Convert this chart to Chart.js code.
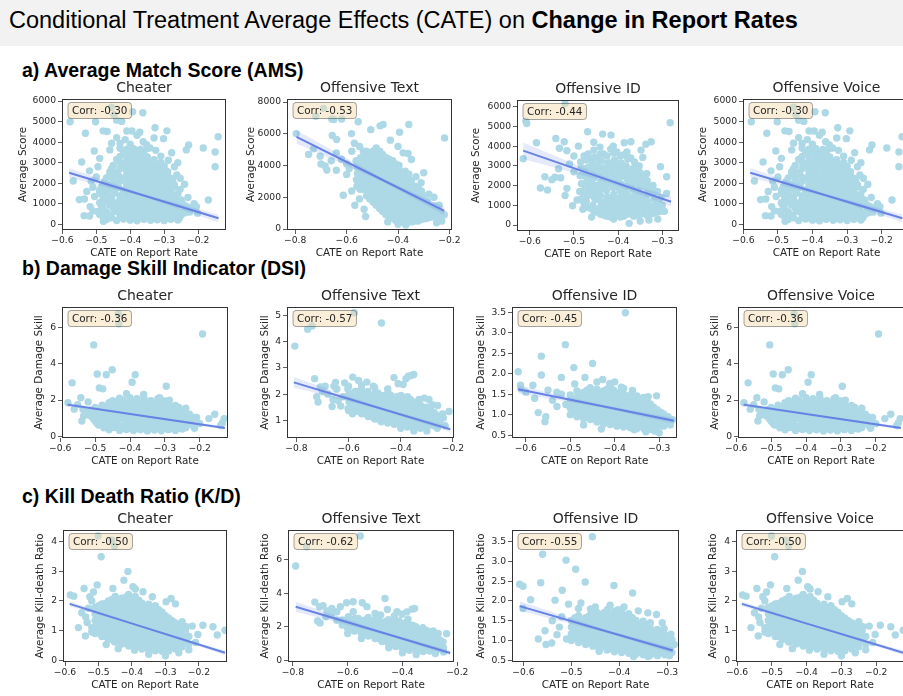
<!DOCTYPE html>
<html>
<head>
<meta charset="utf-8">
<script src="https://cdn.jsdelivr.net/npm/chart.js@4.4.1/dist/chart.umd.min.js"></script>
<style>
  body { margin:0; width:903px; height:696px; overflow:hidden; position:relative; background:#fff; font-family:"Liberation Sans", Arial, sans-serif; }
  #banner { position:absolute; left:0; top:0; width:903px; height:46px; background:#f2f2f2; }
  #banner span { position:absolute; left:9px; top:6px; font-size:23.5px; line-height:28px; color:#000; white-space:nowrap; }
  .sec { position:absolute; left:22px; font-size:19.5px; font-weight:bold; line-height:24px; color:#000; white-space:nowrap; }
  canvas { position:absolute; }
</style>
</head>
<body>
<div id="banner"><span>Conditional Treatment Average Effects (CATE) on <b>Change in Report Rates</b></span></div>
<div class="sec" style="top:58px">a) Average Match Score (AMS)</div>
<div class="sec" style="top:256px">b) Damage Skill Indicator (DSI)</div>
<div class="sec" style="top:484px">c) Kill Death Ratio (K/D)</div>

<script>
// ---- data ----
const panelTitles = ['Cheater', 'Offensive Text', 'Offensive ID', 'Offensive Voice'];
const xLabel = 'CATE on Report Rate';
const rowYLabels = ['Average Score', 'Average Damage Skill', 'Average Kill-death Ratio'];

const xTicksCheater = [-0.6, -0.5, -0.4, -0.3, -0.2];
const xTicksText = [-0.8, -0.6, -0.4, -0.2];
const xTicksId = [-0.6, -0.5, -0.4, -0.3];

const amsTicks = [0, 1000, 2000, 3000, 4000, 5000, 6000];
const amsTextTicks = [0, 2000, 4000, 6000, 8000];
const dsiCheaterTicks = [0, 2, 4, 6];
const dsiTextTicks = [1, 2, 3, 4, 5];
const halfTicks = [0.5, 1.0, 1.5, 2.0, 2.5, 3.0, 3.5];
const kdCheaterTicks = [0, 1, 2, 3, 4];
const kdTextTicks = [0, 2, 4, 6];

const amsCorr = [-0.30, -0.53, -0.44, -0.30];
const dsiCorr = [-0.36, -0.57, -0.45, -0.36];
const kdCorr = [-0.50, -0.62, -0.55, -0.50];

// regression line: [x, y, ci half width]
const amsCheaterFit = [[-0.58, 2510, 230], [-0.36, 1400, 60], [-0.14, 290, 190]];
const amsTextFit = [[-0.795, 5800, 420], [-0.45, 3010, 100], [-0.22, 1150, 260]];
const amsIdFit = [[-0.615, 3770, 420], [-0.42, 2262, 100], [-0.28, 1180, 260]];
const dsiCheaterFit = [[-0.579, 1.75, 0.1], [-0.38, 1.18, 0.03], [-0.128, 0.46, 0.08]];
const dsiTextFit = [[-0.81, 2.45, 0.2], [-0.48, 1.465, 0.04], [-0.21, 0.66, 0.1]];
const dsiIdFit = [[-0.617, 1.62, 0.1], [-0.43, 1.21, 0.03], [-0.267, 0.85, 0.07]];
const kdCheaterFit = [[-0.586, 1.9, 0.08], [-0.38, 1.167, 0.02], [-0.122, 0.25, 0.07]];
const kdTextFit = [[-0.79, 3.19, 0.3], [-0.46, 1.58, 0.06], [-0.226, 0.44, 0.15]];
const kdIdFit = [[-0.608, 1.87, 0.12], [-0.42, 1.21, 0.03], [-0.288, 0.75, 0.07]];

// scatter points [x, y]
const amsCheater = [
  [-0.577,4990],[-0.502,4990],[-0.455,5700],[-0.448,5330],[-0.44,5070],[-0.425,5010],[-0.393,5480],[-0.363,5430],
  [-0.48,4550],[-0.468,4520],[-0.41,4540],[-0.395,4540],[-0.327,4700],[-0.292,4550],[-0.302,4170],[-0.532,4430],
  [-0.44,4220],[-0.43,3930],[-0.38,4330],[-0.362,4020],[-0.342,3710],[-0.40,3900],[-0.46,3620],[-0.31,3320],
  [-0.288,3120],[-0.33,4200],[-0.372,4480],[-0.352,3880],[-0.415,4120],[-0.455,3950],[-0.325,3600],
  [-0.568,2110],[-0.543,3030],[-0.535,1230],[-0.536,420],[-0.52,400],[-0.518,860],[-0.506,3570],[-0.49,3210],
  [-0.479,146],[-0.52,2600],[-0.51,1800],[-0.528,1600],[-0.55,1200],[-0.50,2300],[-0.515,2100],[-0.505,1350],
  [-0.51,650],[-0.495,2800],
  [-0.141,4260],[-0.15,3520],[-0.15,2800],[-0.185,3710],[-0.228,3860],[-0.235,3620],[-0.17,1180],[-0.202,540],
  [-0.253,1700],[-0.245,990],[-0.27,2800],[-0.263,2400],[-0.253,2240],[-0.23,1300],[-0.22,820],[-0.238,560],
  [-0.212,1000],[-0.26,3000],[-0.278,3480],[-0.24,1950],[-0.225,600],[-0.205,860],
  [-0.47,230],[-0.44,180],[-0.42,250],[-0.40,200],[-0.38,170],[-0.36,240],[-0.34,190],[-0.32,220],[-0.30,180],[-0.28,240],[-0.26,210],
  [-0.48,330],[-0.455,320],[-0.43,350],[-0.41,310],[-0.39,340],[-0.37,320],[-0.35,350],[-0.33,310],[-0.31,340],[-0.29,320],[-0.27,350],[-0.255,300],
  [-0.49,480],[-0.46,450],[-0.43,500],[-0.41,440],[-0.39,470],[-0.37,510],[-0.35,460],[-0.33,430],[-0.31,490],[-0.29,460],[-0.27,520],[-0.25,450],
  [-0.495,620],[-0.47,600],[-0.445,630],[-0.42,590],[-0.40,620],[-0.38,600],[-0.36,640],[-0.34,600],[-0.32,620],[-0.30,590],[-0.28,630],[-0.26,600],[-0.245,620],
  [-0.48,760],[-0.45,790],[-0.43,740],[-0.41,770],[-0.39,730],[-0.37,780],[-0.35,750],[-0.33,790],[-0.31,740],[-0.29,770],[-0.27,750],[-0.24,720],
  [-0.485,910],[-0.46,930],[-0.44,900],[-0.42,920],[-0.40,890],[-0.38,930],[-0.36,900],[-0.34,920],[-0.32,890],[-0.30,930],[-0.28,900],[-0.26,920],[-0.235,880],
  [-0.49,1050],[-0.47,1080],[-0.44,1040],[-0.42,1070],[-0.40,1090],[-0.38,1040],[-0.36,1060],[-0.34,1100],[-0.32,1040],[-0.30,1070],[-0.28,1050],[-0.26,1090],
  [-0.48,1210],[-0.455,1230],[-0.43,1200],[-0.41,1220],[-0.39,1190],[-0.37,1230],[-0.35,1200],[-0.33,1220],[-0.31,1190],[-0.29,1230],[-0.27,1200],[-0.25,1180],
  [-0.48,1360],[-0.46,1330],[-0.43,1380],[-0.41,1350],[-0.39,1390],[-0.37,1340],[-0.35,1370],[-0.33,1330],[-0.31,1380],[-0.29,1350],[-0.27,1390],
  [-0.49,1510],[-0.47,1490],[-0.445,1520],[-0.42,1500],[-0.40,1530],[-0.38,1490],[-0.36,1510],[-0.34,1530],[-0.32,1500],[-0.30,1520],[-0.28,1490],[-0.26,1470],
  [-0.49,1650],[-0.47,1680],[-0.45,1640],[-0.42,1670],[-0.40,1690],[-0.38,1640],[-0.36,1660],[-0.34,1700],[-0.32,1650],[-0.30,1680],[-0.28,1640],
  [-0.485,1800],[-0.46,1820],[-0.435,1790],[-0.41,1810],[-0.39,1830],[-0.37,1790],[-0.35,1820],[-0.33,1800],[-0.31,1830],[-0.29,1790],[-0.27,1810],
  [-0.48,1960],[-0.46,1930],[-0.44,1980],[-0.41,1950],[-0.39,1990],[-0.37,1940],[-0.35,1970],[-0.33,1930],[-0.31,1980],[-0.29,1950],[-0.27,1920],
  [-0.475,2100],[-0.45,2120],[-0.43,2090],[-0.41,2110],[-0.39,2130],[-0.37,2090],[-0.35,2120],[-0.33,2100],[-0.31,2130],[-0.29,2090],[-0.275,2110],
  [-0.47,2260],[-0.45,2290],[-0.42,2240],[-0.40,2270],[-0.38,2300],[-0.36,2250],[-0.34,2280],[-0.32,2240],[-0.30,2270],[-0.28,2230],
  [-0.46,2410],[-0.435,2390],[-0.41,2420],[-0.39,2400],[-0.37,2430],[-0.35,2390],[-0.33,2410],[-0.31,2430],[-0.29,2390],
  [-0.46,2560],[-0.44,2530],[-0.41,2580],[-0.39,2550],[-0.37,2590],[-0.35,2540],[-0.33,2570],[-0.31,2530],[-0.29,2560],
  [-0.455,2700],[-0.43,2720],[-0.41,2690],[-0.39,2710],[-0.37,2730],[-0.35,2690],[-0.33,2710],[-0.31,2730],
  [-0.45,2860],[-0.42,2890],[-0.40,2840],[-0.38,2870],[-0.36,2900],[-0.34,2850],[-0.32,2880],[-0.30,2830],
  [-0.43,3010],[-0.41,2990],[-0.39,3020],[-0.37,3000],[-0.35,3030],[-0.33,2990],[-0.31,3010],
  [-0.44,3160],[-0.41,3130],[-0.39,3180],[-0.37,3150],[-0.35,3190],[-0.33,3140],
  [-0.43,3300],[-0.41,3320],[-0.39,3290],[-0.37,3310],[-0.35,3280],
  [-0.42,3450],[-0.40,3480],[-0.38,3430],[-0.36,3470],
  [-0.41,3650],[-0.39,3680],[-0.37,3640],[-0.35,3700],[-0.43,3700]
];

const amsText = [
  [-0.796,6010],[-0.748,4700],[-0.729,5050],[-0.703,4590],[-0.684,3970],[-0.677,3720],[-0.658,6930],[-0.619,6930],
  [-0.555,6760],[-0.656,5890],[-0.639,5640],[-0.581,6010],[-0.506,6260],[-0.458,6580],[-0.47,6500],[-0.394,6100],
  [-0.358,6580],[-0.219,5740],[-0.613,2130],[-0.568,1500],[-0.532,1250],[-0.526,790],[-0.361,4760],[-0.348,4380],
  [-0.31,2920],[-0.30,3550],[-0.60,3440],[-0.59,3800],[-0.72,7100],[-0.69,7600],[-0.65,6900],[-0.64,4800],
  [-0.62,4400],[-0.58,4900],[-0.57,5400],[-0.55,5200],[-0.60,4100],[-0.64,3700],[-0.66,4300],[-0.70,4100],
  [-0.43,5600],[-0.40,5200],[-0.38,4800],[-0.33,3300],[-0.28,2200],[-0.26,2000],[-0.25,400],[-0.23,500],
  [-0.22,900],[-0.24,1500],[-0.40,300],[-0.37,250],[-0.44,450],[-0.58,2400],[-0.55,1900],
  [-0.56,2700],[-0.562,3100],[-0.558,3500],[-0.56,3900],[-0.563,4300],
  [-0.548,2500],[-0.546,2900],[-0.549,3300],[-0.547,3700],[-0.548,4100],[-0.546,4500],
  [-0.535,2500],[-0.537,2900],[-0.533,3300],[-0.535,3700],[-0.536,4100],[-0.534,4500],[-0.535,4900],
  [-0.522,2100],[-0.523,2500],[-0.521,2900],[-0.522,3300],[-0.524,3700],[-0.522,4100],[-0.521,4500],[-0.523,4900],
  [-0.51,1900],[-0.512,2300],[-0.508,2700],[-0.51,3100],[-0.511,3500],[-0.509,3900],[-0.51,4300],[-0.512,4700],
  [-0.497,1700],[-0.498,2100],[-0.496,2500],[-0.497,2900],[-0.499,3300],[-0.497,3700],[-0.496,4100],[-0.498,4500],[-0.497,4900],
  [-0.485,1500],[-0.487,1900],[-0.483,2300],[-0.485,2700],[-0.486,3100],[-0.484,3500],[-0.485,3900],[-0.487,4300],[-0.483,4700],[-0.485,5100],
  [-0.472,1300],[-0.473,1700],[-0.471,2100],[-0.472,2500],[-0.474,2900],[-0.472,3300],[-0.471,3700],[-0.473,4100],[-0.472,4500],[-0.471,4900],
  [-0.46,1100],[-0.462,1500],[-0.458,1900],[-0.46,2300],[-0.461,2700],[-0.459,3100],[-0.46,3500],[-0.462,3900],[-0.458,4300],[-0.46,4700],
  [-0.447,900],[-0.448,1300],[-0.446,1700],[-0.447,2100],[-0.449,2500],[-0.447,2900],[-0.446,3300],[-0.448,3700],[-0.447,4100],[-0.446,4500],
  [-0.435,800],[-0.437,1200],[-0.433,1600],[-0.435,2000],[-0.436,2400],[-0.434,2800],[-0.435,3200],[-0.437,3600],[-0.433,4000],[-0.435,4400],
  [-0.422,700],[-0.423,1100],[-0.421,1500],[-0.422,1900],[-0.424,2300],[-0.422,2700],[-0.421,3100],[-0.423,3500],[-0.422,3900],[-0.421,4300],
  [-0.41,550],[-0.412,900],[-0.408,1300],[-0.41,1700],[-0.411,2100],[-0.409,2500],[-0.41,2900],[-0.412,3300],[-0.408,3700],[-0.41,4100],
  [-0.397,500],[-0.398,850],[-0.396,1200],[-0.397,1600],[-0.399,2000],[-0.397,2400],[-0.396,2800],[-0.398,3200],[-0.397,3600],[-0.396,4000],
  [-0.385,450],[-0.387,800],[-0.383,1200],[-0.385,1600],[-0.386,2000],[-0.384,2400],[-0.385,2800],[-0.387,3200],[-0.383,3600],
  [-0.372,450],[-0.373,850],[-0.371,1250],[-0.372,1650],[-0.374,2050],[-0.372,2450],[-0.371,2850],[-0.373,3250],[-0.372,3650],
  [-0.36,450],[-0.362,800],[-0.358,1150],[-0.36,1500],[-0.361,1900],[-0.359,2300],[-0.36,2700],[-0.362,3100],[-0.358,3450],
  [-0.347,450],[-0.348,800],[-0.346,1150],[-0.347,1500],[-0.349,1850],[-0.347,2250],[-0.346,2650],[-0.348,3050],
  [-0.335,500],[-0.337,850],[-0.333,1200],[-0.335,1550],[-0.336,1900],[-0.334,2300],[-0.335,2700],
  [-0.322,500],[-0.323,850],[-0.321,1200],[-0.322,1550],[-0.324,1900],[-0.322,2250],[-0.321,2600],
  [-0.31,600],[-0.312,950],[-0.308,1300],[-0.31,1650],[-0.311,2000],[-0.309,2400],
  [-0.297,650],[-0.298,1000],[-0.296,1350],[-0.297,1700],[-0.299,2100],
  [-0.285,700],[-0.287,1050],[-0.283,1400],[-0.285,1750],
  [-0.272,750],[-0.273,1100],[-0.271,1450],
  [-0.26,800],[-0.262,1150],[-0.258,1450],
  [-0.247,850],[-0.248,1200],
  [-0.235,850],[-0.237,1100]
];

const amsId = [
  [-0.609,5270],[-0.607,5150],[-0.52,6160],[-0.282,5190],[-0.585,4170],[-0.541,4390],[-0.522,4220],[-0.516,3770],
  [-0.533,3890],[-0.469,4730],[-0.435,4610],[-0.416,4560],[-0.386,4170],[-0.371,4220],[-0.337,4100],[-0.325,4220],
  [-0.348,3800],[-0.344,3430],[-0.304,2960],[-0.29,2450],[-0.29,1600],[-0.615,3360],[-0.566,2450],[-0.576,1875],
  [-0.56,1770],[-0.543,2420],[-0.53,2400],[-0.516,1860],[-0.503,980],[-0.493,1270],[-0.375,85],[-0.426,460],
  [-0.41,300],[-0.50,2700],[-0.51,3100],[-0.50,3500],[-0.49,4000],[-0.455,4200],[-0.30,1000],[-0.295,700],
  [-0.31,300],[-0.33,250],[-0.35,200],[-0.52,1500],[-0.535,2850],[-0.55,2300],[-0.48,800],[-0.46,400],
  [-0.485,1300],[-0.487,1700],[-0.483,2100],[-0.486,2500],[-0.484,2900],[-0.485,3200],
  [-0.477,1100],[-0.478,1450],[-0.476,1800],[-0.477,2500],[-0.479,2850],[-0.477,3500],
  [-0.47,900],[-0.472,1200],[-0.468,1500],[-0.47,1850],[-0.471,2200],[-0.469,2550],[-0.47,2900],[-0.472,3300],[-0.468,3600],
  [-0.462,850],[-0.463,1550],[-0.461,1900],[-0.462,2250],[-0.464,2950],[-0.462,3300],
  [-0.455,700],[-0.457,1000],[-0.453,1350],[-0.455,1700],[-0.456,2050],[-0.454,2400],[-0.455,2750],[-0.457,3100],[-0.453,3450],[-0.455,3800],
  [-0.447,650],[-0.448,1300],[-0.446,1650],[-0.447,2000],[-0.449,2700],[-0.447,3050],[-0.446,3400],
  [-0.44,550],[-0.442,850],[-0.438,1150],[-0.44,1500],[-0.441,1850],[-0.439,2200],[-0.44,2550],[-0.442,2900],[-0.438,3250],[-0.44,3600],[-0.441,3950],
  [-0.432,500],[-0.433,800],[-0.431,1150],[-0.432,1850],[-0.434,2200],[-0.432,2550],[-0.431,2900],[-0.433,3600],
  [-0.425,450],[-0.427,750],[-0.423,1050],[-0.425,1400],[-0.426,1750],[-0.424,2100],[-0.425,2450],[-0.427,2800],[-0.423,3150],[-0.425,3500],
  [-0.417,400],[-0.418,700],[-0.416,1050],[-0.417,1400],[-0.419,2100],[-0.417,2450],[-0.416,2800],[-0.418,3150],[-0.417,3850],
  [-0.41,500],[-0.412,850],[-0.408,1200],[-0.41,1550],[-0.411,1900],[-0.409,2250],[-0.41,2600],[-0.412,2950],[-0.408,3300],[-0.41,3650],[-0.411,4000],
  [-0.402,550],[-0.403,900],[-0.401,1250],[-0.402,1950],[-0.404,2300],[-0.402,2650],[-0.401,3000],[-0.403,3700],
  [-0.395,400],[-0.397,700],[-0.393,1050],[-0.395,1400],[-0.396,1750],[-0.394,2100],[-0.395,2450],[-0.397,2800],[-0.393,3150],[-0.395,3500],
  [-0.387,450],[-0.388,750],[-0.386,1100],[-0.387,1450],[-0.389,1800],[-0.387,2500],[-0.386,2850],[-0.388,3550],
  [-0.38,550],[-0.382,900],[-0.378,1250],[-0.38,1600],[-0.381,1950],[-0.379,2300],[-0.38,2650],[-0.382,3000],[-0.378,3350],[-0.38,3700],
  [-0.372,600],[-0.373,950],[-0.371,1300],[-0.372,2000],[-0.374,2350],[-0.372,2700],[-0.371,3400],
  [-0.365,450],[-0.367,750],[-0.363,1100],[-0.365,1450],[-0.366,1800],[-0.364,2150],[-0.365,2500],[-0.367,2850],[-0.363,3200],
  [-0.357,500],[-0.358,850],[-0.356,1200],[-0.357,1550],[-0.359,2250],[-0.357,2600],[-0.356,2950],
  [-0.35,550],[-0.352,900],[-0.348,1250],[-0.35,1600],[-0.351,1950],[-0.349,2300],[-0.35,2650],[-0.352,3000],
  [-0.342,600],[-0.343,950],[-0.341,1300],[-0.342,2000],[-0.344,2350],
  [-0.335,500],[-0.337,850],[-0.333,1200],[-0.335,1550],[-0.336,1900],[-0.334,2250],[-0.335,2600],
  [-0.327,550],[-0.328,900],[-0.326,1600],[-0.327,1950],
  [-0.32,600],[-0.322,950],[-0.318,1300],[-0.32,1650],[-0.321,2000],
  [-0.312,650],[-0.313,1000],[-0.311,1700],
  [-0.305,700],[-0.307,1050],[-0.303,1400]
];

const dsiCheater = [
  [-0.434,6.76],[-0.432,6.2],[-0.192,5.64],[-0.504,5.04],[-0.451,3.67],[-0.468,3.4],[-0.494,3.44],[-0.385,3.4],
  [-0.394,2.98],[-0.296,2.76],[-0.488,2.67],[-0.478,2.62],[-0.566,2.95],[-0.578,1.85],[-0.541,2.13],[-0.535,1.49],
  [-0.533,1.13],[-0.538,0.85],[-0.515,1.15],[-0.157,1.22],[-0.174,0.98],[-0.13,0.98],[-0.135,0.75],[-0.209,1.04],
  [-0.287,2.0],[-0.315,2.13],[-0.361,2.31],[-0.41,2.35],[-0.24,1.55],[-0.56,1.5],[-0.55,1.75],[-0.52,1.9],
  [-0.2,0.7],[-0.215,0.45],[-0.14,0.6],
  [-0.46,0.36],[-0.43,0.33],[-0.41,0.38],[-0.39,0.32],[-0.37,0.36],[-0.35,0.3],[-0.33,0.35],[-0.31,0.31],[-0.29,0.37],[-0.27,0.33],[-0.25,0.4],
  [-0.475,0.47],[-0.445,0.49],[-0.42,0.46],[-0.40,0.48],[-0.38,0.45],[-0.36,0.49],[-0.34,0.46],[-0.32,0.48],[-0.30,0.45],[-0.28,0.49],[-0.26,0.46],[-0.24,0.48],
  [-0.49,0.62],[-0.47,0.58],[-0.45,0.63],[-0.42,0.57],[-0.40,0.61],[-0.38,0.59],[-0.36,0.64],[-0.34,0.58],[-0.32,0.6],[-0.30,0.56],[-0.28,0.62],[-0.26,0.58],[-0.24,0.63],[-0.22,0.6],
  [-0.495,0.72],[-0.46,0.74],[-0.435,0.71],[-0.41,0.73],[-0.39,0.7],[-0.37,0.74],[-0.35,0.71],[-0.33,0.73],[-0.31,0.7],[-0.29,0.74],[-0.27,0.71],[-0.25,0.73],[-0.23,0.72],
  [-0.50,0.85],[-0.48,0.88],[-0.46,0.83],[-0.44,0.87],[-0.41,0.84],[-0.39,0.88],[-0.37,0.82],[-0.35,0.86],[-0.33,0.84],[-0.31,0.89],[-0.29,0.83],[-0.27,0.87],[-0.25,0.84],[-0.23,0.88],
  [-0.505,0.97],[-0.48,0.99],[-0.455,0.96],[-0.42,0.98],[-0.40,0.95],[-0.38,0.99],[-0.36,0.96],[-0.34,0.98],[-0.32,0.95],[-0.30,0.99],[-0.28,0.96],[-0.26,0.98],[-0.24,0.95],[-0.215,0.97],
  [-0.51,1.1],[-0.49,1.13],[-0.47,1.08],[-0.45,1.12],[-0.43,1.09],[-0.40,1.13],[-0.38,1.07],[-0.36,1.11],[-0.34,1.08],[-0.32,1.12],[-0.30,1.09],[-0.28,1.13],[-0.26,1.07],[-0.24,1.1],[-0.22,1.05],
  [-0.515,1.22],[-0.485,1.24],[-0.46,1.21],[-0.44,1.23],[-0.415,1.2],[-0.39,1.24],[-0.37,1.21],[-0.35,1.23],[-0.33,1.2],[-0.31,1.24],[-0.29,1.21],[-0.27,1.23],[-0.25,1.2],[-0.23,1.22],
  [-0.52,1.35],[-0.50,1.38],[-0.48,1.33],[-0.46,1.37],[-0.44,1.34],[-0.41,1.38],[-0.39,1.32],[-0.37,1.36],[-0.35,1.33],[-0.33,1.37],[-0.31,1.34],[-0.29,1.38],[-0.27,1.32],[-0.25,1.35],
  [-0.51,1.47],[-0.49,1.49],[-0.47,1.46],[-0.45,1.48],[-0.42,1.45],[-0.40,1.49],[-0.38,1.46],[-0.36,1.48],[-0.34,1.45],[-0.32,1.49],[-0.30,1.46],[-0.28,1.48],[-0.26,1.45],
  [-0.50,1.6],[-0.47,1.63],[-0.45,1.58],[-0.43,1.62],[-0.40,1.59],[-0.38,1.63],[-0.36,1.57],[-0.34,1.61],[-0.32,1.58],[-0.30,1.62],[-0.28,1.56],[-0.26,1.6],
  [-0.48,1.72],[-0.455,1.74],[-0.435,1.71],[-0.41,1.73],[-0.39,1.7],[-0.37,1.74],[-0.35,1.71],[-0.33,1.73],[-0.31,1.7],[-0.29,1.74],[-0.27,1.71],
  [-0.46,1.85],[-0.44,1.88],[-0.42,1.83],[-0.39,1.87],[-0.37,1.84],[-0.35,1.88],[-0.33,1.82],[-0.31,1.86],[-0.29,1.83],
  [-0.45,1.97],[-0.42,1.99],[-0.40,1.96],[-0.38,1.98],[-0.34,1.97],[-0.30,1.95],
  [-0.43,2.1],[-0.40,2.13],[-0.38,2.08],[-0.36,2.12],[-0.32,2.07]
];

const dsiText = [
  [-0.806,3.83],[-0.757,4.47],[-0.74,4.6],[-0.578,5.1],[-0.474,4.71],[-0.73,2.59],[-0.708,2.27],[-0.69,2.3],
  [-0.656,2.3],[-0.65,2.45],[-0.645,2.2],[-0.615,2.43],[-0.584,2.65],[-0.562,2.52],[-0.53,2.46],[-0.505,2.3],
  [-0.426,2.63],[-0.391,2.37],[-0.38,2.59],[-0.371,2.68],[-0.36,2.71],[-0.35,2.75],[-0.41,2.4],[-0.215,1.34],
  [-0.237,1.09],[-0.259,1.57],[-0.292,1.8],[-0.31,1.85],[-0.717,1.7],[-0.722,1.9],[-0.663,1.53],[-0.63,1.55],
  [-0.60,1.38],[-0.585,1.25],[-0.68,2.0],[-0.70,2.1],[-0.66,1.8],[-0.62,1.9],[-0.64,1.75],[-0.23,0.8],
  [-0.26,0.7],[-0.30,0.6],[-0.35,0.6],[-0.40,0.7],[-0.28,1.6],[-0.24,1.25],[-0.45,2.2],[-0.50,2.25],
  [-0.55,2.35],[-0.60,2.3],[-0.33,1.8],
  [-0.602,1.45],[-0.598,1.7],[-0.601,1.95],[-0.603,2.2],
  [-0.588,1.5],[-0.587,1.75],[-0.589,2.0],
  [-0.575,1.35],[-0.577,1.6],[-0.573,1.85],[-0.575,2.1],
  [-0.562,1.35],[-0.563,1.6],[-0.561,1.85],[-0.562,2.1],
  [-0.55,1.25],[-0.552,1.5],[-0.548,1.75],[-0.55,2.0],[-0.551,2.2],
  [-0.537,1.25],[-0.538,1.5],[-0.536,1.75],[-0.537,2.0],
  [-0.525,1.15],[-0.527,1.4],[-0.523,1.65],[-0.525,1.9],[-0.526,2.1],
  [-0.512,1.15],[-0.513,1.4],[-0.511,1.65],[-0.512,1.9],
  [-0.50,1.05],[-0.502,1.3],[-0.498,1.55],[-0.50,1.8],[-0.501,2.0],
  [-0.487,1.05],[-0.488,1.3],[-0.486,1.55],[-0.487,1.8],[-0.488,2.05],
  [-0.475,0.95],[-0.477,1.2],[-0.473,1.45],[-0.475,1.7],[-0.476,1.95],
  [-0.462,1.0],[-0.463,1.25],[-0.461,1.5],[-0.462,1.75],[-0.463,1.95],
  [-0.45,0.9],[-0.452,1.15],[-0.448,1.4],[-0.45,1.65],[-0.451,1.9],[-0.449,2.05],
  [-0.437,0.95],[-0.438,1.2],[-0.436,1.45],[-0.437,1.7],[-0.438,1.95],
  [-0.425,0.85],[-0.427,1.1],[-0.423,1.35],[-0.425,1.6],[-0.426,1.85],
  [-0.412,0.9],[-0.413,1.15],[-0.411,1.4],[-0.412,1.65],[-0.413,1.9],
  [-0.40,0.8],[-0.402,1.05],[-0.398,1.3],[-0.40,1.55],[-0.401,1.8],[-0.399,1.95],
  [-0.387,0.85],[-0.388,1.1],[-0.386,1.35],[-0.387,1.6],[-0.388,1.85],
  [-0.375,0.75],[-0.377,1.0],[-0.373,1.25],[-0.375,1.5],[-0.376,1.75],[-0.374,1.9],
  [-0.362,0.8],[-0.363,1.05],[-0.361,1.3],[-0.362,1.55],[-0.363,1.8],
  [-0.35,0.72],[-0.352,0.95],[-0.348,1.2],[-0.35,1.45],[-0.351,1.7],
  [-0.337,0.8],[-0.338,1.05],[-0.336,1.3],[-0.337,1.55],
  [-0.325,0.7],[-0.327,0.92],[-0.323,1.15],[-0.325,1.4],[-0.326,1.6],
  [-0.312,0.8],[-0.313,1.05],[-0.311,1.3],[-0.312,1.5],
  [-0.30,0.75],[-0.302,1.0],[-0.298,1.25],[-0.30,1.5],
  [-0.287,0.9],[-0.288,1.15],[-0.286,1.4],
  [-0.275,0.8],[-0.277,1.05],[-0.273,1.3],
  [-0.262,0.95],[-0.263,1.2],
  [-0.25,0.88],[-0.252,1.1]
];

const dsiId = [
  [-0.376,3.49],[-0.511,2.71],[-0.565,2.43],[-0.45,2.25],[-0.492,2.15],[-0.617,2.05],[-0.565,1.97],[-0.52,1.91],
  [-0.612,1.72],[-0.611,1.64],[-0.584,1.72],[-0.467,1.91],[-0.427,1.86],[-0.411,1.76],[-0.40,1.8],[-0.385,1.67],
  [-0.36,1.59],[-0.325,1.44],[-0.306,1.46],[-0.572,1.05],[-0.555,0.95],[-0.557,0.83],[-0.43,0.65],[-0.356,0.63],
  [-0.30,0.56],[-0.285,0.83],[-0.27,0.88],[-0.326,1.2],[-0.54,1.35],[-0.53,1.2],[-0.52,1.5],[-0.51,1.25],
  [-0.55,1.6],[-0.60,1.55],[-0.58,1.4],[-0.53,1.55],[-0.49,1.75],[-0.44,1.8],[-0.33,0.58],[-0.31,0.6],
  [-0.275,0.75],[-0.28,0.95],[-0.47,0.75],
  [-0.50,1.0],[-0.50,1.16],[-0.50,1.32],[-0.50,1.48],
  [-0.4925,1.08],[-0.4925,1.24],[-0.4925,1.4],
  [-0.485,0.95],[-0.485,1.1],[-0.485,1.26],[-0.485,1.42],[-0.485,1.58],
  [-0.4775,1.02],[-0.4775,1.18],[-0.4775,1.34],[-0.4775,1.5],
  [-0.47,0.9],[-0.47,1.06],[-0.47,1.22],[-0.47,1.38],[-0.47,1.54],
  [-0.4625,0.96],[-0.4625,1.12],[-0.4625,1.28],[-0.4625,1.44],[-0.4625,1.6],
  [-0.455,0.88],[-0.455,1.04],[-0.455,1.2],[-0.455,1.36],[-0.455,1.52],[-0.455,1.66],
  [-0.4475,0.9],[-0.4475,1.06],[-0.4475,1.22],[-0.4475,1.38],[-0.4475,1.54],
  [-0.44,0.82],[-0.44,0.98],[-0.44,1.14],[-0.44,1.3],[-0.44,1.46],[-0.44,1.62],
  [-0.4325,0.86],[-0.4325,1.02],[-0.4325,1.18],[-0.4325,1.34],[-0.4325,1.5],
  [-0.425,0.78],[-0.425,0.94],[-0.425,1.1],[-0.425,1.26],[-0.425,1.42],[-0.425,1.58],
  [-0.4175,0.84],[-0.4175,1.0],[-0.4175,1.16],[-0.4175,1.32],[-0.4175,1.48],[-0.4175,1.62],
  [-0.41,0.76],[-0.41,0.92],[-0.41,1.08],[-0.41,1.24],[-0.41,1.4],[-0.41,1.56],[-0.41,1.7],
  [-0.4025,0.8],[-0.4025,0.96],[-0.4025,1.12],[-0.4025,1.28],[-0.4025,1.44],[-0.4025,1.6],
  [-0.395,0.72],[-0.395,0.88],[-0.395,1.04],[-0.395,1.2],[-0.395,1.36],[-0.395,1.52],
  [-0.3875,0.78],[-0.3875,0.94],[-0.3875,1.1],[-0.3875,1.26],[-0.3875,1.42],[-0.3875,1.56],
  [-0.38,0.7],[-0.38,0.86],[-0.38,1.02],[-0.38,1.18],[-0.38,1.34],[-0.38,1.5],[-0.38,1.64],
  [-0.3725,0.76],[-0.3725,0.92],[-0.3725,1.08],[-0.3725,1.24],[-0.3725,1.4],
  [-0.365,0.68],[-0.365,0.84],[-0.365,1.0],[-0.365,1.16],[-0.365,1.32],[-0.365,1.48],
  [-0.3575,0.74],[-0.3575,0.9],[-0.3575,1.06],[-0.3575,1.22],[-0.3575,1.38],
  [-0.35,0.66],[-0.35,0.82],[-0.35,0.98],[-0.35,1.14],[-0.35,1.3],[-0.35,1.46],
  [-0.3425,0.72],[-0.3425,0.88],[-0.3425,1.04],[-0.3425,1.2],[-0.3425,1.36],
  [-0.335,0.66],[-0.335,0.8],[-0.335,0.96],[-0.335,1.12],[-0.335,1.28],[-0.335,1.42],
  [-0.3275,0.7],[-0.3275,0.86],[-0.3275,1.02],[-0.3275,1.18],[-0.3275,1.32],
  [-0.32,0.64],[-0.32,0.78],[-0.32,0.94],[-0.32,1.1],[-0.32,1.26],
  [-0.3125,0.72],[-0.3125,0.88],[-0.3125,1.04],[-0.3125,1.18],
  [-0.305,0.66],[-0.305,0.8],[-0.305,0.96],[-0.305,1.12],
  [-0.2975,0.76],[-0.2975,0.92],[-0.2975,1.06],
  [-0.29,0.72],[-0.29,0.88],[-0.29,1.02]
];

const kdCheater = [
  [-0.501,4.19],[-0.46,4.05],[-0.452,3.85],[-0.492,3.49],[-0.412,2.99],[-0.424,2.7],[-0.397,2.48],[-0.39,2.4],
  [-0.367,2.31],[-0.504,2.54],[-0.543,2.42],[-0.584,2.2],[-0.574,2.16],[-0.526,2.14],[-0.515,2.3],[-0.457,2.42],
  [-0.339,2.14],[-0.283,2.08],[-0.298,1.97],[-0.27,1.9],[-0.25,1.3],[-0.238,1.13],[-0.22,1.15],[-0.188,1.18],
  [-0.158,1.13],[-0.122,1.01],[-0.145,0.85],[-0.203,0.87],[-0.539,0.82],[-0.52,0.95],[-0.477,0.53],[-0.452,0.62],
  [-0.441,0.39],[-0.392,0.34],[-0.538,1.46],[-0.534,1.27],[-0.55,1.6],[-0.53,1.75],[-0.56,1.1],[-0.21,0.6],
  [-0.23,0.35],[-0.26,0.25],[-0.30,0.15],[-0.35,0.2],[-0.52,1.1],[-0.52,2.0],
  [-0.51,0.9],[-0.51,1.12],[-0.51,1.34],[-0.51,1.56],[-0.51,1.78],
  [-0.50,0.95],[-0.50,1.17],[-0.50,1.39],[-0.50,1.61],[-0.50,1.83],
  [-0.49,0.8],[-0.49,1.02],[-0.49,1.24],[-0.49,1.46],[-0.49,1.68],[-0.49,1.9],
  [-0.48,0.81],[-0.48,1.03],[-0.48,1.25],[-0.48,1.47],[-0.48,1.69],[-0.48,1.91],
  [-0.47,0.7],[-0.47,0.92],[-0.47,1.14],[-0.47,1.36],[-0.47,1.58],[-0.47,1.8],[-0.47,2.0],
  [-0.46,0.73],[-0.46,0.95],[-0.46,1.17],[-0.46,1.39],[-0.46,1.61],[-0.46,1.83],[-0.46,2.05],
  [-0.45,0.62],[-0.45,0.84],[-0.45,1.06],[-0.45,1.28],[-0.45,1.5],[-0.45,1.72],[-0.45,1.94],[-0.45,2.15],
  [-0.44,0.66],[-0.44,0.88],[-0.44,1.1],[-0.44,1.32],[-0.44,1.54],[-0.44,1.76],[-0.44,1.98],
  [-0.43,0.55],[-0.43,0.77],[-0.43,0.99],[-0.43,1.21],[-0.43,1.43],[-0.43,1.65],[-0.43,1.87],[-0.43,2.09],
  [-0.42,0.59],[-0.42,0.81],[-0.42,1.03],[-0.42,1.25],[-0.42,1.47],[-0.42,1.69],[-0.42,1.91],[-0.42,2.12],
  [-0.41,0.48],[-0.41,0.7],[-0.41,0.92],[-0.41,1.14],[-0.41,1.36],[-0.41,1.58],[-0.41,1.8],[-0.41,2.02],[-0.41,2.22],
  [-0.40,0.53],[-0.40,0.75],[-0.40,0.97],[-0.40,1.19],[-0.40,1.41],[-0.40,1.63],[-0.40,1.85],[-0.40,2.07],
  [-0.39,0.42],[-0.39,0.64],[-0.39,0.86],[-0.39,1.08],[-0.39,1.3],[-0.39,1.52],[-0.39,1.74],[-0.39,1.96],[-0.39,2.15],
  [-0.38,0.49],[-0.38,0.71],[-0.38,0.93],[-0.38,1.15],[-0.38,1.37],[-0.38,1.59],[-0.38,1.81],[-0.38,2.02],
  [-0.37,0.38],[-0.37,0.6],[-0.37,0.82],[-0.37,1.04],[-0.37,1.26],[-0.37,1.48],[-0.37,1.7],[-0.37,1.92],
  [-0.36,0.46],[-0.36,0.68],[-0.36,0.9],[-0.36,1.12],[-0.36,1.34],[-0.36,1.56],[-0.36,1.78],
  [-0.35,0.35],[-0.35,0.57],[-0.35,0.79],[-0.35,1.01],[-0.35,1.23],[-0.35,1.45],[-0.35,1.67],[-0.35,1.89],
  [-0.34,0.43],[-0.34,0.65],[-0.34,0.87],[-0.34,1.09],[-0.34,1.31],[-0.34,1.53],[-0.34,1.75],
  [-0.33,0.32],[-0.33,0.54],[-0.33,0.76],[-0.33,0.98],[-0.33,1.2],[-0.33,1.42],[-0.33,1.64],[-0.33,1.84],
  [-0.32,0.41],[-0.32,0.63],[-0.32,0.85],[-0.32,1.07],[-0.32,1.29],[-0.32,1.51],[-0.32,1.7],
  [-0.31,0.3],[-0.31,0.52],[-0.31,0.74],[-0.31,0.96],[-0.31,1.18],[-0.31,1.4],[-0.31,1.62],
  [-0.30,0.42],[-0.30,0.64],[-0.30,0.86],[-0.30,1.08],[-0.30,1.3],[-0.30,1.5],
  [-0.29,0.32],[-0.29,0.54],[-0.29,0.76],[-0.29,0.98],[-0.29,1.2],[-0.29,1.42],
  [-0.28,0.47],[-0.28,0.69],[-0.28,0.91],[-0.28,1.13],[-0.28,1.33],
  [-0.27,0.38],[-0.27,0.6],[-0.27,0.82],[-0.27,1.04],[-0.27,1.26],
  [-0.26,0.55],[-0.26,0.77],[-0.26,0.99],[-0.26,1.18],
  [-0.25,0.45],[-0.25,0.67],[-0.25,0.89],[-0.25,1.1],
  [-0.24,0.62],[-0.24,0.85],[-0.24,1.02],
  [-0.23,0.55],[-0.23,0.8]
];

const kdText = [
  [-0.79,5.62],[-0.75,6.77],[-0.554,7.41],[-0.72,3.47],[-0.69,3.25],[-0.676,2.95],[-0.703,3.19],[-0.658,3.09],
  [-0.627,3.19],[-0.604,3.43],[-0.58,3.49],[-0.547,3.43],[-0.53,3.2],[-0.464,3.69],[-0.455,3.03],[-0.402,2.75],
  [-0.384,2.89],[-0.365,3.05],[-0.356,3.09],[-0.701,2.23],[-0.71,2.35],[-0.64,2.39],[-0.62,2.4],[-0.315,1.69],
  [-0.26,1.04],[-0.288,1.75],[-0.239,1.59],[-0.323,0.56],[-0.27,1.6],[-0.66,2.7],[-0.64,2.9],[-0.62,2.1],
  [-0.68,2.6],[-0.58,2.9],[-0.50,2.8],[-0.48,2.7],[-0.43,2.65],[-0.42,2.9],[-0.25,0.5],[-0.28,0.4],
  [-0.35,0.35],[-0.40,0.45],[-0.45,0.75],[-0.55,1.3],[-0.60,1.6],[-0.38,2.45],
  [-0.60,1.9],[-0.602,2.28],[-0.598,2.6],
  [-0.588,2.05],[-0.587,2.42],
  [-0.575,1.75],[-0.577,2.13],[-0.573,2.5],
  [-0.562,1.8],[-0.563,2.18],[-0.561,2.5],
  [-0.55,1.6],[-0.552,1.98],[-0.548,2.36],
  [-0.537,1.65],[-0.538,2.03],[-0.536,2.4],
  [-0.525,1.45],[-0.527,1.83],[-0.523,2.21],[-0.525,2.55],
  [-0.512,1.5],[-0.513,1.88],[-0.511,2.25],
  [-0.50,1.3],[-0.502,1.68],[-0.498,2.06],[-0.50,2.44],
  [-0.487,1.32],[-0.488,1.7],[-0.486,2.08],[-0.487,2.45],
  [-0.475,1.12],[-0.477,1.5],[-0.473,1.88],[-0.475,2.26],
  [-0.462,1.15],[-0.463,1.53],[-0.461,1.91],[-0.462,2.3],
  [-0.45,0.95],[-0.452,1.33],[-0.448,1.71],[-0.45,2.09],[-0.451,2.42],
  [-0.437,1.0],[-0.438,1.38],[-0.436,1.76],[-0.437,2.14],
  [-0.425,0.82],[-0.427,1.2],[-0.423,1.58],[-0.425,1.96],[-0.426,2.3],
  [-0.412,0.88],[-0.413,1.26],[-0.411,1.64],[-0.412,2.02],[-0.413,2.35],
  [-0.40,0.7],[-0.402,1.08],[-0.398,1.46],[-0.40,1.84],[-0.401,2.2],
  [-0.387,0.78],[-0.388,1.16],[-0.386,1.54],[-0.387,1.92],[-0.388,2.25],
  [-0.375,0.6],[-0.377,0.98],[-0.373,1.36],[-0.375,1.74],[-0.376,2.1],
  [-0.362,0.72],[-0.363,1.1],[-0.361,1.48],[-0.362,1.86],[-0.363,2.1],
  [-0.35,0.55],[-0.352,0.93],[-0.348,1.31],[-0.35,1.69],[-0.351,2.0],
  [-0.337,0.7],[-0.338,1.08],[-0.336,1.46],[-0.337,1.82],
  [-0.325,0.52],[-0.327,0.9],[-0.323,1.28],[-0.325,1.66],[-0.326,1.95],
  [-0.312,0.72],[-0.313,1.1],[-0.311,1.48],[-0.312,1.78],
  [-0.30,0.55],[-0.302,0.93],[-0.298,1.31],[-0.30,1.68],
  [-0.287,0.78],[-0.288,1.15],[-0.286,1.5],
  [-0.275,0.62],[-0.277,1.0],[-0.273,1.38],
  [-0.262,0.85],[-0.263,1.2],
  [-0.25,0.75],[-0.252,1.1]
];

const kdId = [
  [-0.456,3.62],[-0.56,3.18],[-0.511,3.03],[-0.491,2.8],[-0.608,2.42],[-0.601,2.37],[-0.564,2.46],[-0.471,2.48],
  [-0.411,2.39],[-0.372,2.2],[-0.585,2.03],[-0.601,1.81],[-0.519,2.27],[-0.534,2.02],[-0.506,1.92],[-0.485,1.81],
  [-0.48,1.95],[-0.45,1.85],[-0.419,1.89],[-0.39,1.85],[-0.322,1.66],[-0.306,1.3],[-0.292,1.16],[-0.569,1.04],
  [-0.553,0.9],[-0.541,0.94],[-0.51,1.04],[-0.442,0.73],[-0.34,0.6],[-0.37,0.6],[-0.295,0.62],[-0.525,1.34],
  [-0.54,1.5],[-0.52,1.6],[-0.555,1.25],[-0.53,1.15],[-0.46,1.8],[-0.36,1.75],[-0.34,1.7],[-0.31,1.45],
  [-0.285,0.9],
  [-0.50,1.0],[-0.50,1.17],[-0.50,1.34],[-0.50,1.51],
  [-0.4925,1.08],[-0.4925,1.25],[-0.4925,1.42],[-0.4925,1.58],
  [-0.485,0.95],[-0.485,1.12],[-0.485,1.29],[-0.485,1.46],[-0.485,1.63],
  [-0.4775,1.0],[-0.4775,1.17],[-0.4775,1.34],[-0.4775,1.51],
  [-0.47,0.9],[-0.47,1.07],[-0.47,1.24],[-0.47,1.41],[-0.47,1.58],
  [-0.4625,0.95],[-0.4625,1.12],[-0.4625,1.29],[-0.4625,1.46],[-0.4625,1.63],
  [-0.455,0.86],[-0.455,1.03],[-0.455,1.2],[-0.455,1.37],[-0.455,1.54],[-0.455,1.71],
  [-0.4475,0.88],[-0.4475,1.05],[-0.4475,1.22],[-0.4475,1.39],[-0.4475,1.56],[-0.4475,1.72],
  [-0.44,0.8],[-0.44,0.97],[-0.44,1.14],[-0.44,1.31],[-0.44,1.48],[-0.44,1.65],
  [-0.4325,0.85],[-0.4325,1.02],[-0.4325,1.19],[-0.4325,1.36],[-0.4325,1.53],[-0.4325,1.7],
  [-0.425,0.76],[-0.425,0.93],[-0.425,1.1],[-0.425,1.27],[-0.425,1.44],[-0.425,1.61],[-0.425,1.78],
  [-0.4175,0.8],[-0.4175,0.97],[-0.4175,1.14],[-0.4175,1.31],[-0.4175,1.48],[-0.4175,1.65],
  [-0.41,0.72],[-0.41,0.89],[-0.41,1.06],[-0.41,1.23],[-0.41,1.4],[-0.41,1.57],[-0.41,1.74],
  [-0.4025,0.78],[-0.4025,0.95],[-0.4025,1.12],[-0.4025,1.29],[-0.4025,1.46],[-0.4025,1.63],[-0.4025,1.78],
  [-0.395,0.7],[-0.395,0.87],[-0.395,1.04],[-0.395,1.21],[-0.395,1.38],[-0.395,1.55],[-0.395,1.72],
  [-0.3875,0.76],[-0.3875,0.93],[-0.3875,1.1],[-0.3875,1.27],[-0.3875,1.44],[-0.3875,1.61],
  [-0.38,0.68],[-0.38,0.85],[-0.38,1.02],[-0.38,1.19],[-0.38,1.36],[-0.38,1.53],[-0.38,1.68],
  [-0.3725,0.74],[-0.3725,0.91],[-0.3725,1.08],[-0.3725,1.25],[-0.3725,1.42],[-0.3725,1.58],
  [-0.365,0.66],[-0.365,0.83],[-0.365,1.0],[-0.365,1.17],[-0.365,1.34],[-0.365,1.51],
  [-0.3575,0.72],[-0.3575,0.89],[-0.3575,1.06],[-0.3575,1.23],[-0.3575,1.4],
  [-0.35,0.64],[-0.35,0.81],[-0.35,0.98],[-0.35,1.15],[-0.35,1.32],[-0.35,1.49],
  [-0.3425,0.71],[-0.3425,0.88],[-0.3425,1.05],[-0.3425,1.22],[-0.3425,1.38],
  [-0.335,0.63],[-0.335,0.8],[-0.335,0.97],[-0.335,1.14],[-0.335,1.31],[-0.335,1.45],
  [-0.3275,0.7],[-0.3275,0.87],[-0.3275,1.04],[-0.3275,1.21],
  [-0.32,0.62],[-0.32,0.79],[-0.32,0.96],[-0.32,1.13],[-0.32,1.28],
  [-0.3125,0.72],[-0.3125,0.89],[-0.3125,1.06],[-0.3125,1.2],
  [-0.305,0.64],[-0.305,0.81],[-0.305,0.98],[-0.305,1.14],
  [-0.2975,0.76],[-0.2975,0.93],[-0.2975,1.08],
  [-0.29,0.7],[-0.29,0.87],[-0.29,1.02]
];

// ---- panel layout: plot box [left, top, right, bottom] in page px, axis ranges ----
const panels = [
  { pts: amsCheater, fit: amsCheaterFit, corr: amsCorr[0], title: panelTitles[0], yLabel: rowYLabels[0], xTicks: xTicksCheater, yTicks: amsTicks, yDec: 0, box: [62, 99, 226, 230], xr: [-0.601, -0.118], yr: [-280, 6100], yOff: -39 },
  { pts: amsText, fit: amsTextFit, corr: amsCorr[1], title: panelTitles[1], yLabel: rowYLabels[0], xTicks: xTicksText, yTicks: amsTextTicks, yDec: 0, box: [287, 99, 452, 230], xr: [-0.832, -0.19], yr: [-60, 8190], yOff: -36 },
  { pts: amsId, fit: amsIdFit, corr: amsCorr[2], title: panelTitles[2], yLabel: rowYLabels[0], xTicks: xTicksId, yTicks: amsTicks, yDec: 0, box: [517, 100, 679, 231], xr: [-0.629, -0.262], yr: [-304, 6340], yOff: -41 },
  { pts: amsCheater, fit: amsCheaterFit, corr: amsCorr[3], title: panelTitles[3], yLabel: rowYLabels[0], xTicks: xTicksCheater, yTicks: amsTicks, yDec: 0, box: [743, 99, 910, 230], xr: [-0.601, -0.118], yr: [-280, 6100], yOff: -40 },

  { pts: dsiCheater, fit: dsiCheaterFit, corr: dsiCorr[0], title: panelTitles[0], yLabel: rowYLabels[1], xTicks: xTicksCheater, yTicks: dsiCheaterTicks, yDec: 0, box: [62, 307, 228, 438], xr: [-0.595, -0.119], yr: [-0.09, 7.13], yOff: -23 },
  { pts: dsiText, fit: dsiTextFit, corr: dsiCorr[1], title: panelTitles[1], yLabel: rowYLabels[1], xTicks: xTicksText, yTicks: dsiTextTicks, yDec: 0, box: [287, 307, 454, 438], xr: [-0.836, -0.196], yr: [0.33, 5.32], yOff: -22 },
  { pts: dsiId, fit: dsiIdFit, corr: dsiCorr[2], title: panelTitles[2], yLabel: rowYLabels[1], xTicks: xTicksId, yTicks: halfTicks, yDec: 1, box: [512, 307, 677, 438], xr: [-0.631, -0.26], yr: [0.43, 3.63], yOff: -31 },
  { pts: dsiCheater, fit: dsiCheaterFit, corr: dsiCorr[3], title: panelTitles[3], yLabel: rowYLabels[1], xTicks: xTicksCheater, yTicks: dsiCheaterTicks, yDec: 0, box: [738, 307, 904, 438], xr: [-0.595, -0.119], yr: [-0.09, 7.13], yOff: -23 },

  { pts: kdCheater, fit: kdCheaterFit, corr: kdCorr[0], title: panelTitles[0], yLabel: rowYLabels[2], xTicks: xTicksCheater, yTicks: kdCheaterTicks, yDec: 0, box: [63, 530, 227, 662], xr: [-0.606, -0.116], yr: [-0.06, 4.39], yOff: -23 },
  { pts: kdText, fit: kdTextFit, corr: kdCorr[1], title: panelTitles[1], yLabel: rowYLabels[2], xTicks: xTicksText, yTicks: kdTextTicks, yDec: 0, box: [288, 530, 454, 662], xr: [-0.818, -0.212], yr: [-0.1, 7.77], yOff: -23 },
  { pts: kdId, fit: kdIdFit, corr: kdCorr[2], title: panelTitles[2], yLabel: rowYLabels[2], xTicks: xTicksId, yTicks: halfTicks, yDec: 1, box: [512, 530, 679, 662], xr: [-0.624, -0.275], yr: [0.46, 3.79], yOff: -31 },
  { pts: kdCheater, fit: kdCheaterFit, corr: kdCorr[3], title: panelTitles[3], yLabel: rowYLabels[2], xTicks: xTicksCheater, yTicks: kdCheaterTicks, yDec: 0, box: [736, 530, 904, 662], xr: [-0.603, -0.12], yr: [-0.06, 4.39], yOff: -23 }
];

const FONT = '"DejaVu Sans", sans-serif';
const INK = '#262626';
const Y_AXIS_W = 50;   // room left of the plot box
const TITLE_H = 23;    // room above the plot box
const X_AXIS_H = 33;   // room below the plot box
const PAD_R = 16;

function fmt(v, dec) {
  const s = Math.abs(v).toFixed(dec);
  return v < 0 ? '\u2212' + s : s;
}

// frame + corr box drawn over the data
const panelDeco = {
  id: 'panelDeco',
  afterDatasetsDraw(chart, args, opts) {
    const { ctx, chartArea: a } = chart;
    ctx.save();
    ctx.strokeStyle = '#333';
    ctx.lineWidth = 1;
    ctx.strokeRect(a.left + 0.5, a.top + 0.5, a.width - 1, a.height - 1);

    const label = 'Corr: ' + opts.corr.toFixed(2);
    ctx.font = '10.4px ' + FONT;
    const w = ctx.measureText(label).width + 8;
    const bx = a.left + 6, by = a.top + 3.5, bh = 16;
    ctx.beginPath();
    ctx.roundRect(bx, by, w, bh, 3);
    ctx.fillStyle = 'rgba(245, 222, 179, 0.5)';
    ctx.fill();
    ctx.strokeStyle = 'rgba(0, 0, 0, 0.35)';
    ctx.lineWidth = 1;
    ctx.stroke();
    ctx.fillStyle = INK;
    ctx.textBaseline = 'middle';
    ctx.fillText(label, bx + 4, by + bh / 2 + 0.5);
    ctx.restore();
  }
};

panels.forEach(p => {
  const [L, T, R, B] = p.box;
  const cv = document.createElement('canvas');
  const w = (R - L) + Y_AXIS_W + PAD_R;
  const h = (B - T) + TITLE_H + X_AXIS_H;
  cv.width = w; cv.height = h;
  cv.style.width = w + 'px'; cv.style.height = h + 'px';
  cv.style.left = (L - Y_AXIS_W) + 'px';
  cv.style.top = (T - TITLE_H) + 'px';
  document.body.appendChild(cv);

  const tickGrid = { display: true, drawOnChartArea: false, drawTicks: true, tickLength: 4, color: '#333', lineWidth: 0.8 };

  new Chart(cv.getContext('2d'), {
    type: 'line',
    data: {
      datasets: [
        {
          data: p.pts.map(([x, y]) => ({ x, y })),
          showLine: false,
          pointRadius: 3.7,
          pointBackgroundColor: '#add8e6',
          pointBorderWidth: 0,
          clip: 0,
          order: 3
        },
        {
          data: p.fit.map(([x, y, e]) => ({ x, y: y + e })),
          borderWidth: 0,
          pointRadius: 0,
          backgroundColor: 'rgba(95, 125, 225, 0.16)',
          fill: '+1',
          order: 2
        },
        {
          data: p.fit.map(([x, y, e]) => ({ x, y: y - e })),
          borderWidth: 0,
          pointRadius: 0,
          fill: false,
          order: 2
        },
        {
          data: p.fit.map(([x, y]) => ({ x, y })),
          borderColor: '#6682e4',
          borderWidth: 2,
          pointRadius: 0,
          fill: false,
          order: 1
        }
      ]
    },
    options: {
      responsive: false,
      animation: false,
      devicePixelRatio: 1,
      events: [],
      layout: { padding: { left: 0, right: PAD_R, top: 0, bottom: 0 } },
      plugins: {
        legend: { display: false },
        tooltip: { enabled: false },
        title: {
          display: true,
          text: p.title,
          fullSize: false,
          color: INK,
          font: { family: FONT, size: 14, weight: 'normal', lineHeight: 1.2 },
          padding: { top: 4, bottom: 2.2 }
        },
        panelDeco: { corr: p.corr }
      },
      scales: {
        x: {
          type: 'linear',
          min: p.xr[0],
          max: p.xr[1],
          afterBuildTicks: s => { s.ticks = p.xTicks.map(v => ({ value: v })); },
          afterFit: s => { s.height = X_AXIS_H; },
          grid: tickGrid,
          border: { display: false },
          ticks: {
            color: INK, padding: 1.5, maxRotation: 0, minRotation: 0, autoSkip: false,
            font: { family: FONT, size: 9.2 },
            callback: v => fmt(v, 1)
          },
          title: {
            display: true, text: xLabel, color: INK,
            font: { family: FONT, size: 10.4 },
            padding: { top: 0, bottom: 3 }
          }
        },
        y: {
          type: 'linear',
          min: p.yr[0],
          max: p.yr[1],
          afterBuildTicks: s => { s.ticks = p.yTicks.map(v => ({ value: v })); },
          afterFit: s => { s.width = Y_AXIS_W; },
          grid: tickGrid,
          border: { display: false },
          ticks: {
            color: INK, padding: 2, autoSkip: false,
            font: { family: FONT, size: 9.2 },
            callback: v => fmt(v, p.yDec)
          },
          title: {
            display: true, text: p.yLabel, color: INK,
            font: { family: FONT, size: 10.4 },
            padding: { top: Y_AXIS_W + p.yOff - 6.2, bottom: 0 }
          }
        }
      }
    },
    plugins: [panelDeco]
  });
});
</script>
</body>
</html>
